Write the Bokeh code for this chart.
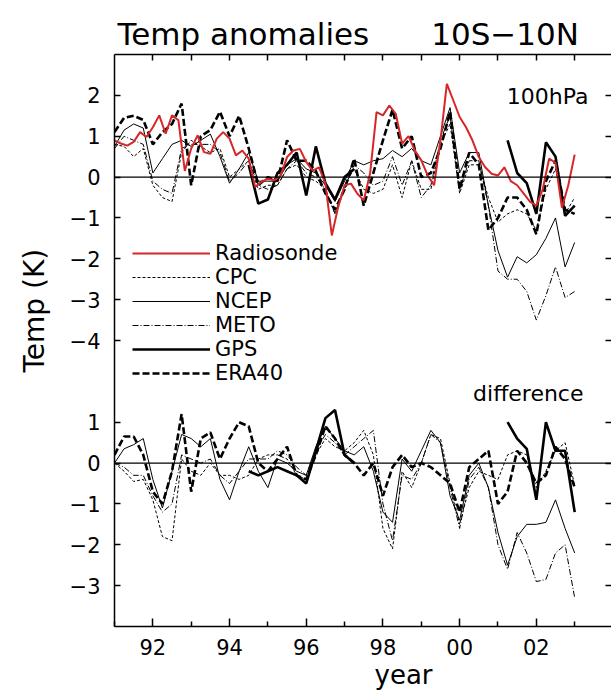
import numpy as np
from bokeh.plotting import figure
from bokeh.models import FixedTicker, LinearAxis, Span, Label, Legend, LegendItem, Range1d, Title
from bokeh.embed import file_html
from bokeh.resources import INLINE

FONT = "DejaVu Sans"
nan = float("nan")

# ---------------- data (K) ----------------
# time axes in decimal years
T_BIMONTHLY = [1991 + n / 6 for n in range(73)]
T_QUARTERLY = [1991 + k / 4 for k in range(49)]

YEAR_TICKS = [1992, 1994, 1996, 1998, 2000, 2002]
YEAR_LABELS = ["92", "94", "96", "98", "00", "02"]
MINOR_YEARS = [1991, 1993, 1995, 1997, 1999, 2001, 2003]

# upper panel: 100 hPa anomalies
RADIOSONDE = [0.90, 0.82, 0.77, 0.86, 1.10, 0.98, 1.22, 1.51, 1.06, 1.51, 1.39, 0.15,
              0.70, 1.02, 0.61, 0.57, 0.94, 1.10, 0.94, 0.53, 0.65, 0.45, -0.24, -0.12,
              -0.04, -0.08, 0.04, 0.49, 0.65, 0.69, 0.37, 0.16, 0.24, -0.16, -1.43, -0.73,
              -0.20, -0.16, -0.41, -0.57, 0.10, 1.59, 1.51, 1.75, 1.55, 0.82, 1.00, 0.65,
              0.41, 0.04, -0.20, 0.90, 2.28, 1.88, 1.47, 1.22, 0.90, 0.49, 0.24, 0.08,
              0.04, 0.24, -0.10, -0.20, -0.40, -0.60, -0.70, -0.30, 0.45, 0.35, -0.75, -0.20, 0.55]

CPC_UP = [0.8, 0.75, 0.5, 0.7, -0.2, -0.5, -0.6, 0.6, 0.9, 0.75, 0.6, 0.7,
          0.0, 0.2, 0.4, -0.3, -0.2, -0.2, 0.2, 0.3, 0.0, -0.1, -0.3, -0.9,
          -0.2, 0.2, -0.3, -0.4, -0.3, 0.3, -0.5, 0.4, -0.3, -0.3, 0.8, 1.3,
          -0.4, 0.3, 0.3, -0.5, -1.1, -0.9, -0.8, -0.9, -1.3, -0.3, 0.2, -0.9, -0.5]

NCEP_UP = [0.75, 1.15, 1.3, 1.2, 0.1, 0.45, 0.8, 0.9, 0.75, 0.9, 1.05, 0.5,
           -0.15, 0.2, 0.6, -0.1, -0.1, -0.1, 0.3, 0.45, 0.2, 0.1, -0.2, -0.6,
           -0.1, 0.4, 0.3, 0.4, 0.45, 0.65, 0.5, 0.7, 0.4, 0.3, 1.0, 1.7,
           0.1, 0.6, 0.6, -0.7, -1.8, -2.45, -1.95, -2.1, -1.9, -1.5, -1.0, -2.2, -1.6]

METO_UP = [0.7, 1.0, 0.9, 0.8, -0.1, -0.3, -0.4, 0.7, 0.8, 0.8, 0.8, 0.6,
           -0.1, 0.1, 0.4, -0.2, -0.3, -0.2, 0.2, 0.4, 0.1, 0.0, -0.3, -0.9,
           -0.3, 0.3, 0.1, -0.2, -0.1, 0.5, -0.2, 0.4, -0.5, -0.2, 0.9, 1.5,
           -0.3, 0.4, 0.4, -0.7, -2.3, -2.5, -2.5, -2.8, -3.5, -2.9, -2.2, -2.95, -2.8]

GPS_UP = [nan, nan, nan, nan, nan, nan, nan, nan, nan, nan, nan, nan,
          nan, nan, 0.3, -0.65, -0.55, 0.1, 0.3, 0.6, -0.45, 0.75, -0.15, -0.55,
          0.0, 0.2, nan, nan, nan, nan, nan, nan, nan, nan, nan, nan,
          nan, nan, nan, nan, nan, 0.9, 0.1, -0.15, -0.9, 0.85, 0.5, -0.95, -0.7]

ERA40_UP = [1.1, 1.45, 1.5, 1.4, 0.8, 1.1, 1.3, 1.8, -0.2, 1.0, 1.15, 1.6,
            1.0, 1.5, 0.7, -0.2, 0.0, -0.1, 0.9, 0.4, 0.4, 0.15, -0.4, -0.8,
            -0.3, 0.45, -0.7, 0.1, 0.9, 1.65, 0.7, 1.0, 0.0, 0.1, 0.7, 1.6,
            -0.3, 0.6, 0.3, -1.3, -1.0, -0.5, -0.5, -0.8, -1.4, -0.1, 0.4, -0.8, -0.9]

# lower panel: difference from radiosonde
CPC_DIFF = [0.0, -0.2, -0.45, -0.4, -0.9, -1.8, -1.9, 0.1, -0.2, -0.3, 0.0, -0.3,
            -0.3, -0.4, -0.3, 0.1, 0.2, 0.2, 0.1, -0.3, -0.4, 0.2, 0.6, 0.4,
            0.3, 0.5, 0.8, 0.2, -1.6, -2.1, -0.2, -0.6, 0.0, 0.7, 0.6, -0.5,
            -1.5, -0.6, -0.2, -0.3, -0.4, 0.2, 0.3, 0.2, -0.6, -0.2, 0.3, 0.5, -0.55]

NCEP_DIFF = [0.0, 0.35, 0.45, 0.6, -0.4, -1.1, -0.2, 0.7, 0.6, 0.4, 0.6, -0.4,
             -0.9, -0.2, 0.4, -0.2, -0.6, 0.1, 0.0, -0.2, -0.3, 0.4, 0.9, 0.6,
             0.3, 0.2, 0.4, -0.2, -1.2, -1.45, 0.1, -0.2, 0.3, 0.8, 0.5, -0.8,
             -1.4, -0.3, 0.0, -0.6, -1.7, -2.5, -1.8, -1.5, -1.5, -1.45, -0.9, -1.6, -2.2]

METO_DIFF = [0.0, -0.1, -0.3, -0.3, -0.8, -1.2, -1.0, 0.2, 0.1, 0.0, 0.1, -0.3,
             -0.5, -0.2, 0.1, 0.1, 0.1, 0.3, 0.2, -0.1, -0.3, 0.3, 0.7, 0.5,
             0.2, 0.4, 0.6, 0.8, -1.0, -1.9, -0.3, -0.4, 0.0, 0.7, 0.5, -0.6,
             -1.6, -0.4, -0.1, -0.6, -2.0, -2.6, -1.7, -2.2, -2.9, -2.85, -2.2, -2.0, -3.3]

GPS_DIFF = [nan, nan, nan, nan, nan, nan, nan, nan, nan, nan, nan, nan,
            nan, nan, -0.2, -0.3, -0.2, -0.1, -0.2, -0.3, -0.5, 0.3, 1.1, 1.3,
            0.2, 0.0, nan, nan, nan, nan, nan, nan, nan, nan, nan, nan,
            nan, nan, nan, nan, nan, 1.0, 0.6, 0.35, -0.9, 1.0, 0.3, 0.3, -1.2]

ERA40_DIFF = [0.2, 0.65, 0.65, 0.2, -0.7, -1.0, -0.2, 1.2, -0.7, 0.6, 0.75, 0.1,
              0.6, 1.0, 0.9, 0.0, -0.2, 0.1, 0.4, -0.3, -0.4, 0.2, 0.9, 0.6,
              0.2, 0.0, -0.3, 0.0, -0.8, -0.1, 0.2, -0.1, 0.0, -0.1, -0.3, -0.5,
              -1.2, -0.1, 0.1, 0.3, -1.0, -0.7, 0.3, 0.0, -0.5, -0.3, 0.4, 0.1, -0.6]

DIFF_OFFSET = 7.0  # the difference panel is drawn 7 K below the anomaly panel

UPPER_TICKS = [2, 1, 0, -1, -2, -3, -4]
LOWER_TICKS = [1, 0, -1, -2, -3]

# ---------------- figure ----------------
p = figure(width=611, height=695, x_range=Range1d(1991, 2003.96), y_range=Range1d(-11, 3),
           output_backend="svg", toolbar_location=None,
           min_border_left=112, min_border_right=0, min_border_top=54, min_border_bottom=69)
p.outline_line_color = None
p.xgrid.visible = False
p.ygrid.visible = False
p.background_fill_color = "white"


def lbl(v):
    return str(v).replace("-", "\u2212")


def style_axis(ax, tick_in):
    ax.axis_line_color = "black"
    ax.axis_line_width = 1.5
    ax.major_tick_line_color = "black"
    ax.major_tick_line_width = 1.5
    ax.minor_tick_line_color = "black"
    ax.minor_tick_line_width = 1.5
    ax.major_tick_in = tick_in
    ax.major_tick_out = 0
    ax.minor_tick_in = 5
    ax.minor_tick_out = 0
    ax.major_label_text_font = FONT
    ax.major_label_text_font_size = "21px"
    ax.major_label_text_color = "black"


xa = p.xaxis[0]
xa.ticker = FixedTicker(ticks=YEAR_TICKS, minor_ticks=MINOR_YEARS)
xa.major_label_overrides = {t: s for t, s in zip(YEAR_TICKS, YEAR_LABELS)}
style_axis(xa, 8)
xa.major_label_standoff = 12

ya = p.yaxis[0]
ytick_pos = UPPER_TICKS + [v - DIFF_OFFSET for v in LOWER_TICKS]
ytick_txt = [lbl(v) for v in UPPER_TICKS] + [lbl(v) for v in LOWER_TICKS]
ya.ticker = FixedTicker(ticks=ytick_pos, minor_ticks=[])
ya.major_label_overrides = {t: s for t, s in zip(ytick_pos, ytick_txt)}
style_axis(ya, 6)
ya.major_label_standoff = 14

all_years = list(range(1992, 2004))
top = LinearAxis(ticker=FixedTicker(ticks=all_years, minor_ticks=[]),
                 major_label_overrides={y: "" for y in all_years})
style_axis(top, 6)
top.major_label_standoff = 0
p.add_layout(top, "above")

right = LinearAxis(ticker=FixedTicker(ticks=ytick_pos, minor_ticks=[]),
                   major_label_overrides={t: "" for t in ytick_pos})
style_axis(right, 6)
right.axis_line_color = None
right.major_label_standoff = 0
p.add_layout(right, "right")

for loc in (0, -DIFF_OFFSET):
    p.add_layout(Span(location=loc, dimension="width", line_color="black", line_width=1.2))

STYLES = {
    "CPC": dict(line_color="black", line_width=1, line_dash="3 2"),
    "NCEP": dict(line_color="black", line_width=1),
    "METO": dict(line_color="black", line_width=1, line_dash="6 2 1 2"),
    "ERA40": dict(line_color="black", line_width=2.6, line_dash="7 3"),
    "GPS": dict(line_color="black", line_width=2.6),
    "Radiosonde": dict(line_color="#d62728", line_width=2),
}

tq = np.array(T_QUARTERLY)
upper = {"CPC": CPC_UP, "NCEP": NCEP_UP, "METO": METO_UP, "ERA40": ERA40_UP, "GPS": GPS_UP}
lower = {"CPC": CPC_DIFF, "NCEP": NCEP_DIFF, "METO": METO_DIFF, "ERA40": ERA40_DIFF, "GPS": GPS_DIFF}

rend = {}
for name in ["CPC", "NCEP", "METO", "ERA40", "GPS"]:
    rend[name] = p.line(tq, np.array(upper[name], dtype=float), **STYLES[name])
    p.line(tq, np.array(lower[name], dtype=float) - DIFF_OFFSET, **STYLES[name])
rend["Radiosonde"] = p.line(np.array(T_BIMONTHLY), np.array(RADIOSONDE), **STYLES["Radiosonde"])

order = ["Radiosonde", "CPC", "NCEP", "METO", "GPS", "ERA40"]
legend = Legend(items=[LegendItem(label=n, renderers=[rend[n]]) for n in order],
                location=(18, 241), glyph_width=78, glyph_height=24, label_height=24,
                label_standoff=5, spacing=0, padding=0, margin=0,
                border_line_color=None, background_fill_alpha=0,
                label_text_font=FONT, label_text_font_size="21px", label_text_color="black")
p.add_layout(legend)

# texts inside the frame
for x, y, text in [(2003.36, 1.97, "100hPa"), (2003.23, -5.30, "difference")]:
    p.add_layout(Label(x=x, y=y, text=text, text_font=FONT, text_font_size="22px",
                       text_align="right", text_baseline="middle", text_color="black"))

# texts around the frame
p.title = Title(text="Temp anomalies\u2003\u200310S\u221210N", align="left", offset=3,
                standoff=6, text_font=FONT, text_font_size="31px", text_font_style="normal",
                text_color="black")
p.add_layout(Title(text="Temp (K)", align="left", offset=254, standoff=31, text_font=FONT,
                   text_font_size="28px", text_font_style="normal", text_color="black"), "left")
p.add_layout(Title(text="year", align="left", offset=260, standoff=0, text_font=FONT,
                   text_font_size="26px", text_font_style="normal", text_color="black"), "below")

open("out.html", "w").write(file_html(p, INLINE))
